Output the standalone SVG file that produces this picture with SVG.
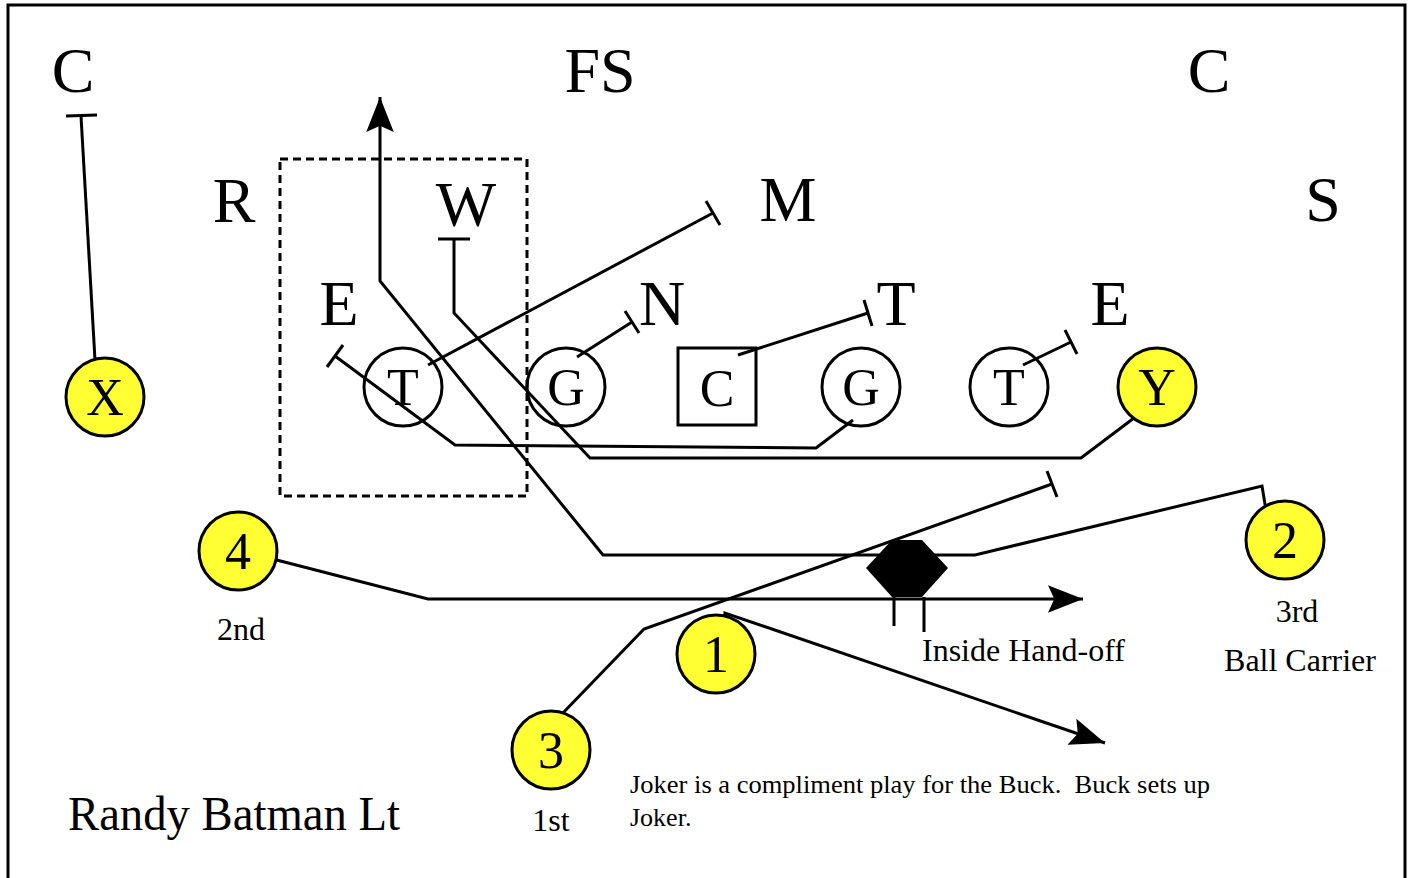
<svg xmlns="http://www.w3.org/2000/svg" width="1413" height="878" viewBox="0 0 1413 878">
<style>
.ln{fill:none;stroke:#000;stroke-width:3;stroke-linejoin:miter}
.pl{fill:none;stroke:#000;stroke-width:3}
.yl{fill:#ffff33;stroke:#000;stroke-width:3}
text{font-family:"Liberation Serif","Times New Roman",serif;fill:#000}
.big{font-size:64px;text-anchor:middle}
.in{font-size:52px;text-anchor:middle}
.sm{font-size:32px}
.mid{text-anchor:middle}
</style>
<defs>
<marker id="ah" markerUnits="userSpaceOnUse" markerWidth="40" markerHeight="40" viewBox="-30 -15 32 30" refX="0" refY="0" orient="auto">
<path d="M0,0 L-28,-11 L-23,0 L-28,11 Z" fill="#000"/>
</marker>
</defs>
<rect x="8" y="5" width="1397" height="900" fill="#fff" stroke="#000" stroke-width="3"/>
<rect x="280" y="159" width="247" height="337" fill="none" stroke="#000" stroke-width="3" stroke-dasharray="8 5"/>

<g id="defense">
<text class="big" x="73" y="92">C</text>
<text class="big" x="600" y="92">FS</text>
<text class="big" x="1209" y="92">C</text>
<text class="big" x="234" y="222">R</text>
<text class="big" x="466" y="226">W</text>
<text class="big" x="788" y="221">M</text>
<text class="big" x="1323" y="221">S</text>
<text class="big" x="339" y="325">E</text>
<text class="big" x="662" y="325">N</text>
<text class="big" x="896" y="325">T</text>
<text class="big" x="1110" y="325">E</text>
</g>

<g id="connectors">
<path class="ln" d="M95,360 L81,116"/>
<path class="ln" d="M66,116 L97,115"/>
<path class="ln" d="M428,365 L713,213"/>
<path class="ln" d="M706,201 L720,225"/>
<path class="ln" d="M577,357 L632,322"/>
<path class="ln" d="M625,311 L639,333"/>
<path class="ln" d="M738,355 L868,313"/>
<path class="ln" d="M864,300 L872,326"/>
<path class="ln" d="M1023,365 L1071,342"/>
<path class="ln" d="M1065,330 L1077,354"/>
<path class="ln" d="M853,420 L816,448 L455,445 L335,356"/>
<path class="ln" d="M327,367 L343,345"/>
<path class="ln" d="M1138,415 L1081,458 L590,458 L454,313 L454,239"/>
<path class="ln" d="M438,239 L470,239"/>
<path class="ln" d="M1267,516 L1262,486 L975,555 L603,555 L380,281 L380,97" marker-end="url(#ah)"/>
<path class="ln" d="M265,557 L428,599 L1083,599" marker-end="url(#ah)"/>
<path class="ln" d="M560,716 L644,629 L1052,484"/>
<path class="ln" d="M1047,471 L1057,497"/>
<path class="ln" d="M725,626 L725,613 L1105,743" marker-end="url(#ah)"/>
</g>

<g id="handoff">
<polygon points="892,540 922,540 948,568 922,597 892,597 866,568" fill="#000"/>
<path class="ln" d="M894,597 L894,626 M924,597 L924,632"/>
</g>

<g id="node-X"><circle class="yl" cx="105" cy="397" r="39"/><text class="in" x="105" y="415">X</text></g>
<g id="node-LT"><circle class="pl" cx="403" cy="387" r="39"/><text class="in" x="403" y="405">T</text></g>
<g id="node-LG"><circle class="pl" cx="566" cy="387" r="39"/><text class="in" x="566" y="405">G</text></g>
<g id="node-C"><rect class="pl" x="678" y="348" width="78" height="77"/><text class="in" x="717" y="406">C</text></g>
<g id="node-RG"><circle class="pl" cx="861" cy="387" r="39"/><text class="in" x="861" y="405">G</text></g>
<g id="node-RT"><circle class="pl" cx="1009" cy="387" r="39"/><text class="in" x="1009" y="405">T</text></g>
<g id="node-Y"><circle class="yl" cx="1157" cy="387" r="39"/><text class="in" x="1157" y="405">Y</text></g>
<g id="node-4"><circle class="yl" cx="238" cy="551" r="39"/><text class="in" x="238" y="569">4</text></g>
<g id="node-2"><circle class="yl" cx="1285" cy="540" r="39"/><text class="in" x="1285" y="558">2</text></g>
<g id="node-1"><circle class="yl" cx="716" cy="654" r="39"/><text class="in" x="716" y="672">1</text></g>
<g id="node-3"><circle class="yl" cx="551" cy="750" r="39"/><text class="in" x="551" y="768">3</text></g>

<g id="labels">
<text class="sm mid" x="241" y="640">2nd</text>
<text class="sm mid" x="1297" y="622">3rd</text>
<text class="sm mid" x="1300" y="671">Ball Carrier</text>
<text class="sm" x="922" y="661">Inside Hand-off</text>
<text class="sm mid" x="551" y="831">1st</text>
<text x="630" y="793" font-size="26" textLength="580" lengthAdjust="spacingAndGlyphs" xml:space="preserve">Joker is a compliment play for the Buck.  Buck sets up</text>
<text x="630" y="826" font-size="26">Joker.</text>
<text x="68" y="830" font-size="48" textLength="332" lengthAdjust="spacingAndGlyphs">Randy Batman Lt</text>
</g>
</svg>
